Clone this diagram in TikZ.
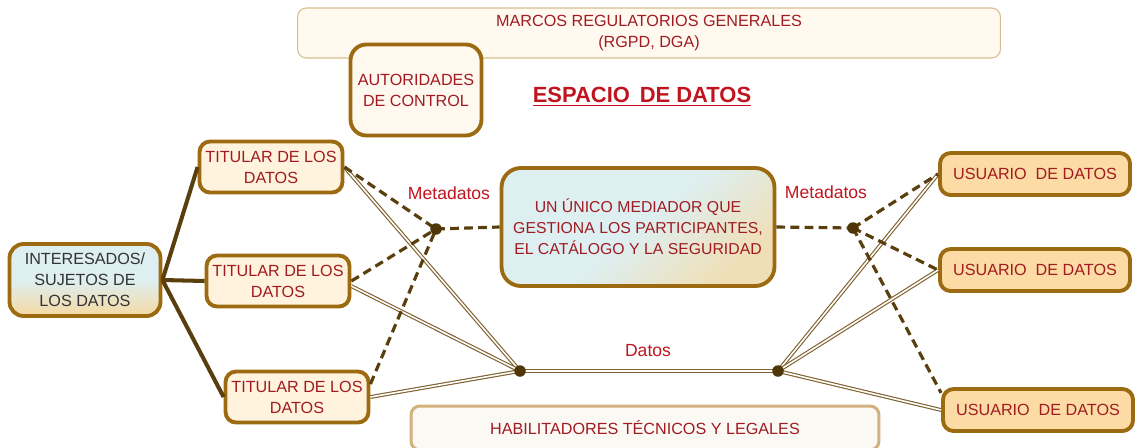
\documentclass[tikz,border=0pt]{standalone}
\usepackage{fontspec}
\setmainfont{Liberation Sans}
\usepackage{xcolor}
\usepackage{tikz}
\usetikzlibrary{positioning,calc}

\definecolor{boxbrown}{HTML}{9C6A10}
\definecolor{titfill}{HTML}{FFF3DE}
\definecolor{usrfill}{HTML}{FCDCA4}
\definecolor{autfill}{HTML}{FFF8EE}
\definecolor{marfill}{HTML}{FFF9F0}
\definecolor{marline}{HTML}{D8BE8E}
\definecolor{habfill}{HTML}{FBF9F4}
\definecolor{habline}{HTML}{D2B27C}
\definecolor{txtred}{HTML}{A01B22}
\definecolor{lblred}{HTML}{C0141E}
\definecolor{solbrown}{HTML}{5A3F0E}
\definecolor{dotbrown}{HTML}{4F3608}
\definecolor{dblbrown}{HTML}{806230}
\definecolor{lblue}{HTML}{DDEFF1}
\definecolor{peach}{HTML}{F6D9A2}

\begin{document}
\begin{tikzpicture}[x=0.02cm,y=-0.02cm,
  box/.style={draw=boxbrown,line width=2.2pt,rounded corners=6pt,align=center,text=txtred,
    font=\fontsize{9.2}{11.9}\selectfont,inner sep=1pt},
  titular/.style={box,fill=titfill,minimum width=2.86cm,minimum height=1.02cm},
  usuario/.style={box,fill=usrfill,minimum width=3.8cm,minimum height=0.84cm},
  marco/.style={rounded corners=5pt,align=center,text=txtred,font=\fontsize{9.2}{11.9}\selectfont},
  dot/.style={circle,fill=dotbrown,inner sep=0pt,minimum size=0.23cm},
  rama/.style={draw=solbrown,line width=2.3pt},
  meta/.style={draw=solbrown,line width=1.8pt,dash pattern=on 5pt off 3pt},
  dato/.style={draw=dblbrown,line width=0.65pt,double=white,double distance=0.9pt},
  etiq/.style={text=lblred,font=\fontsize{10}{12}\selectfont}]
  \useasboundingbox (0,0) rectangle (1135,447);

  % marcos y habilitadores
  \node[marco,draw=marline,line width=0.6pt,fill=marfill,minimum width=14.06cm,minimum height=1cm]
    (marcos) at (649,33) {MARCOS REGULATORIOS GENERALES\\(RGPD, DGA)};
  \node[marco,draw=habline,line width=1.7pt,fill=habfill,minimum width=9.36cm,minimum height=0.88cm]
    (habil) at (645,428) {HABILITADORES TÉCNICOS Y LEGALES};
  \node[box,fill=autfill,rounded corners=9pt,minimum width=2.62cm,minimum height=1.82cm]
    (autor) at (416,90) {AUTORIDADES\\DE CONTROL};
  \node[text=lblred,font=\fontsize{12.5}{14}\selectfont\bfseries] (titulo) at (642,97)
    {\underline{ESPACIO\ \,DE DATOS}};

  \node[box,text=black!80,top color=lblue,bottom color=peach,middle color=lblue,
    minimum width=3.02cm,minimum height=1.44cm,rounded corners=8pt]
    (inter) at (85,280) {INTERESADOS/\\SUJETOS DE\\LOS DATOS};
  \node[titular] (tit1) at (271,167) {TITULAR DE LOS\\DATOS};
  \node[titular] (tit2) at (278,281) {TITULAR DE LOS\\DATOS};
  \node[titular] (tit3) at (297,397) {TITULAR DE LOS\\DATOS};

  \node[box,top color=lblue,bottom color=peach!75!lblue,middle color=lblue,shading angle=40,
    rounded corners=11pt,minimum width=5.46cm,minimum height=2.36cm,font=\fontsize{9}{11.9}\selectfont]
    (medi) at (638,227) {UN ÚNICO MEDIADOR QUE\\GESTIONA LOS PARTICIPANTES,\\EL CATÁLOGO Y LA SEGURIDAD};

  \node[usuario] (usr1) at (1035,174) {USUARIO\ \ DE DATOS};
  \node[usuario] (usr2) at (1035,270) {USUARIO\ \ DE DATOS};
  \node[usuario] (usr3) at (1038,410) {USUARIO\ \ DE DATOS};

  \coordinate (m1) at (436,229);
  \coordinate (m2) at (853,228);
  \coordinate (d1) at (520,371);
  \coordinate (d2) at (778,371);

  \node[etiq] (meta1) at (449,193) {Metadatos};
  \node[etiq] (meta2) at (826,192) {Metadatos};
  \node[etiq] (datos) at (648,351) {Datos};

  % ramas
  \draw[rama] (inter.east) -- (tit1.west);
  \draw[rama] (inter.east) -- (tit2.west);
  \draw[rama] (inter.east) -- (tit3.west);

  % datos
  \draw[dato] (tit1.east) -- (d1);
  \draw[dato] (tit2.-4) -- (d1);
  \draw[dato] (tit3.east) -- (d1);
  \draw[dato] (d1) -- (d2);
  \draw[dato] (d2) -- (usr1.west);
  \draw[dato] (d2) -- (usr2.west);
  \draw[dato] (d2) -- (usr3.west);

  % metadatos
  \draw[meta] (tit1.east) -- (m1);
  \draw[meta] (tit2.east) -- (m1);
  \draw[meta] (tit3.10) -- (m1);
  \draw[meta] (m1) -- (medi.west);
  \draw[meta] (medi.east) -- (m2);
  \draw[meta] (m2) -- (usr1.west);
  \draw[meta] (m2) -- (usr2.west);
  \draw[meta] (m2) -- (usr3.170);

  \node[dot] (m1dot) at (m1) {};
  \node[dot] (m2dot) at (m2) {};
  \node[dot] (d1dot) at (d1) {};
  \node[dot] (d2dot) at (d2) {};
\end{tikzpicture}
\end{document}
